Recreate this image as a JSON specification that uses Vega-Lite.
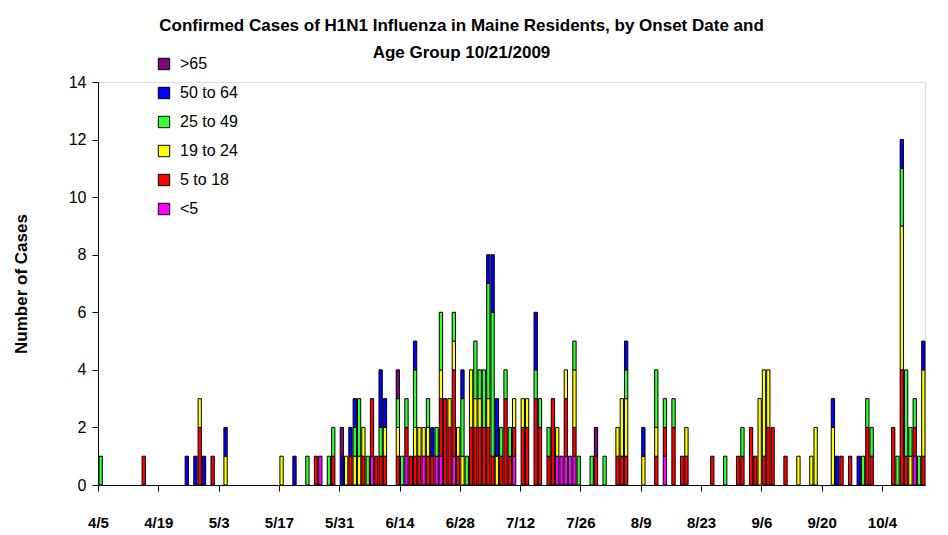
{
  "$schema": "https://vega.github.io/schema/vega-lite/v6.json",
  "autosize": "none",
  "width": 827,
  "height": 403,
  "padding": {"left": 98, "top": 82, "right": 23, "bottom": 50},
  "background": "white",
  "title": {
    "text": ["Confirmed Cases of H1N1 Influenza in Maine Residents, by Onset Date and", "Age Group 10/21/2009"],
    "font": "Liberation Sans", "fontSize": 17, "fontWeight": "bold", "color": "black",
    "anchor": "middle", "dx": -50, "offset": -6, "lineHeight": 27
  },
  "data": {"values": [
    {"d": "2009-04-05", "g": 1},
    {"d": "2009-04-15", "r": 1},
    {"d": "2009-04-25", "b": 1},
    {"d": "2009-04-27", "b": 1},
    {"d": "2009-04-28", "r": 2, "y": 1},
    {"d": "2009-04-29", "b": 1},
    {"d": "2009-05-01", "r": 1},
    {"d": "2009-05-04", "y": 1, "b": 1},
    {"d": "2009-05-17", "y": 1},
    {"d": "2009-05-20", "b": 1},
    {"d": "2009-05-23", "g": 1},
    {"d": "2009-05-25", "r": 1},
    {"d": "2009-05-26", "p": 1},
    {"d": "2009-05-28", "g": 1},
    {"d": "2009-05-29", "r": 1, "g": 1},
    {"d": "2009-05-31", "b": 1, "u": 1},
    {"d": "2009-06-01", "y": 1},
    {"d": "2009-06-02", "r": 1, "b": 1},
    {"d": "2009-06-03", "y": 1, "g": 1, "b": 1},
    {"d": "2009-06-04", "y": 1, "g": 2},
    {"d": "2009-06-05", "r": 1, "y": 1},
    {"d": "2009-06-06", "g": 1},
    {"d": "2009-06-07", "p": 1, "r": 2},
    {"d": "2009-06-08", "r": 1},
    {"d": "2009-06-09", "r": 1, "g": 1, "b": 2},
    {"d": "2009-06-10", "r": 1, "y": 1, "b": 1},
    {"d": "2009-06-13", "r": 1, "y": 1, "g": 1, "u": 1},
    {"d": "2009-06-14", "g": 1},
    {"d": "2009-06-15", "p": 1, "r": 1, "g": 1},
    {"d": "2009-06-16", "r": 1},
    {"d": "2009-06-17", "r": 1, "y": 1, "g": 2, "b": 1},
    {"d": "2009-06-18", "r": 1, "y": 1},
    {"d": "2009-06-19", "p": 1, "y": 1},
    {"d": "2009-06-20", "r": 1, "y": 1, "g": 1},
    {"d": "2009-06-21", "r": 1, "b": 1},
    {"d": "2009-06-22", "p": 1, "g": 1},
    {"d": "2009-06-23", "p": 1, "r": 2, "y": 1, "g": 2},
    {"d": "2009-06-24", "r": 3},
    {"d": "2009-06-25", "r": 2, "y": 1},
    {"d": "2009-06-26", "p": 1, "r": 3, "y": 1, "g": 1},
    {"d": "2009-06-27", "r": 1, "y": 1},
    {"d": "2009-06-28", "y": 1, "g": 2, "b": 1},
    {"d": "2009-06-29", "g": 1},
    {"d": "2009-06-30", "r": 2, "y": 2},
    {"d": "2009-07-01", "r": 2, "y": 1, "g": 2},
    {"d": "2009-07-02", "r": 2, "y": 1, "g": 1},
    {"d": "2009-07-03", "r": 2, "g": 2},
    {"d": "2009-07-04", "r": 2, "y": 1, "g": 4, "b": 1},
    {"d": "2009-07-05", "r": 1, "g": 5, "b": 2},
    {"d": "2009-07-06", "y": 1, "b": 2},
    {"d": "2009-07-07", "r": 1, "g": 1},
    {"d": "2009-07-08", "r": 3, "g": 1},
    {"d": "2009-07-09", "r": 1, "g": 1},
    {"d": "2009-07-10", "p": 1, "r": 1, "y": 1},
    {"d": "2009-07-12", "r": 2, "y": 1},
    {"d": "2009-07-13", "r": 2, "y": 1},
    {"d": "2009-07-15", "r": 3, "g": 1, "b": 2},
    {"d": "2009-07-16", "r": 2, "g": 1},
    {"d": "2009-07-18", "r": 1, "g": 1},
    {"d": "2009-07-19", "r": 3},
    {"d": "2009-07-20", "p": 1, "y": 1},
    {"d": "2009-07-21", "p": 1},
    {"d": "2009-07-22", "p": 1, "r": 2, "y": 1},
    {"d": "2009-07-23", "p": 1},
    {"d": "2009-07-24", "p": 1, "r": 1, "y": 2, "g": 1},
    {"d": "2009-07-25", "g": 1},
    {"d": "2009-07-28", "g": 1},
    {"d": "2009-07-29", "r": 1, "u": 1},
    {"d": "2009-07-31", "g": 1},
    {"d": "2009-08-03", "r": 1, "y": 1},
    {"d": "2009-08-04", "r": 1, "y": 2},
    {"d": "2009-08-05", "r": 1, "y": 2, "g": 1, "b": 1},
    {"d": "2009-08-09", "y": 1, "b": 1},
    {"d": "2009-08-12", "r": 1, "y": 1, "g": 2},
    {"d": "2009-08-14", "p": 1, "r": 1, "g": 1},
    {"d": "2009-08-16", "r": 2, "g": 1},
    {"d": "2009-08-18", "r": 1},
    {"d": "2009-08-19", "r": 1, "y": 1},
    {"d": "2009-08-25", "r": 1},
    {"d": "2009-08-28", "g": 1},
    {"d": "2009-08-31", "r": 1},
    {"d": "2009-09-01", "r": 1, "g": 1},
    {"d": "2009-09-03", "r": 2},
    {"d": "2009-09-04", "r": 1},
    {"d": "2009-09-05", "y": 3},
    {"d": "2009-09-06", "r": 1, "y": 3},
    {"d": "2009-09-07", "r": 2, "y": 2},
    {"d": "2009-09-08", "r": 2},
    {"d": "2009-09-11", "r": 1},
    {"d": "2009-09-14", "y": 1},
    {"d": "2009-09-17", "y": 1},
    {"d": "2009-09-18", "y": 2},
    {"d": "2009-09-22", "y": 2, "b": 1},
    {"d": "2009-09-23", "b": 1},
    {"d": "2009-09-24", "r": 1},
    {"d": "2009-09-26", "r": 1},
    {"d": "2009-09-28", "b": 1},
    {"d": "2009-09-29", "g": 1},
    {"d": "2009-09-30", "r": 2, "g": 1},
    {"d": "2009-10-01", "r": 1, "g": 1},
    {"d": "2009-10-06", "r": 2},
    {"d": "2009-10-07", "g": 1},
    {"d": "2009-10-08", "r": 4, "y": 5, "g": 2, "b": 1},
    {"d": "2009-10-09", "r": 1, "g": 3},
    {"d": "2009-10-10", "y": 1, "g": 1},
    {"d": "2009-10-11", "p": 1, "r": 1, "g": 1},
    {"d": "2009-10-12", "g": 1},
    {"d": "2009-10-13", "r": 1, "y": 3, "b": 1}
  ]},
  "transform": [
    {"fold": ["p", "r", "y", "g", "b", "u"], "as": ["k", "n"]},
    {"filter": "datum.n > 0"},
    {"lookup": "k", "from": {"data": {"values": [
      {"k": "p", "group": "<5", "o": 0},
      {"k": "r", "group": "5 to 18", "o": 1},
      {"k": "y", "group": "19 to 24", "o": 2},
      {"k": "g", "group": "25 to 49", "o": 3},
      {"k": "b", "group": "50 to 64", "o": 4},
      {"k": "u", "group": ">65", "o": 5}
    ]}, "key": "k", "fields": ["group", "o"]}}
  ],
  "mark": {"type": "bar", "stroke": "black", "strokeWidth": 1},
  "encoding": {
    "x": {
      "field": "d", "type": "temporal", "timeUnit": "utcyearmonthdate",
      "scale": {"type": "utc", "domain": [{"year": 2009, "month": 4, "date": 5, "utc": true}, {"year": 2009, "month": 10, "date": 14, "utc": true}]},
      "axis": {
        "title": null, "format": "%-m/%-d", "grid": false,
        "values": [
          {"year": 2009, "month": 4, "date": 5, "utc": true},
          {"year": 2009, "month": 4, "date": 19, "utc": true},
          {"year": 2009, "month": 5, "date": 3, "utc": true},
          {"year": 2009, "month": 5, "date": 17, "utc": true},
          {"year": 2009, "month": 5, "date": 31, "utc": true},
          {"year": 2009, "month": 6, "date": 14, "utc": true},
          {"year": 2009, "month": 6, "date": 28, "utc": true},
          {"year": 2009, "month": 7, "date": 12, "utc": true},
          {"year": 2009, "month": 7, "date": 26, "utc": true},
          {"year": 2009, "month": 8, "date": 9, "utc": true},
          {"year": 2009, "month": 8, "date": 23, "utc": true},
          {"year": 2009, "month": 9, "date": 6, "utc": true},
          {"year": 2009, "month": 9, "date": 20, "utc": true},
          {"year": 2009, "month": 10, "date": 4, "utc": true}
        ],
        "labelFont": "Liberation Sans", "labelFontSize": 15, "labelFontWeight": "bold",
        "labelColor": "black", "labelPadding": 24, "labelDx": -15, "labelFlush": false,
        "labelOverlap": false, "domainColor": "black", "tickColor": "black", "tickSize": 6
      }
    },
    "y": {
      "aggregate": "sum", "field": "n", "type": "quantitative", "stack": "zero",
      "scale": {"domain": [0, 14]},
      "axis": {
        "title": "Number of Cases", "values": [0, 2, 4, 6, 8, 10, 12, 14], "grid": false,
        "titleFont": "Liberation Sans", "titleFontSize": 17, "titleFontWeight": "bold",
        "titleColor": "black", "titlePadding": 38,
        "labelFont": "Liberation Sans", "labelFontSize": 16, "labelColor": "black",
        "domainColor": "black", "tickColor": "black", "tickSize": 6, "labelPadding": 6
      }
    },
    "color": {
      "field": "group", "type": "nominal",
      "scale": {
        "domain": [">65", "50 to 64", "25 to 49", "19 to 24", "5 to 18", "<5"],
        "range": ["#800080", "#0000FF", "#33FF33", "#FFFF00", "#FF0000", "#FF00FF"]
      },
      "legend": {
        "title": null, "orient": "none", "legendX": 58, "legendY": -26,
        "symbolType": "square", "symbolSize": 130, "symbolStrokeColor": "black",
        "symbolStrokeWidth": 1, "symbolOpacity": 1,
        "labelFont": "Liberation Sans", "labelFontSize": 16, "labelColor": "black",
        "rowPadding": 13, "labelOffset": 8
      }
    },
    "order": {"field": "o", "type": "quantitative", "sort": "ascending"}
  }
}
